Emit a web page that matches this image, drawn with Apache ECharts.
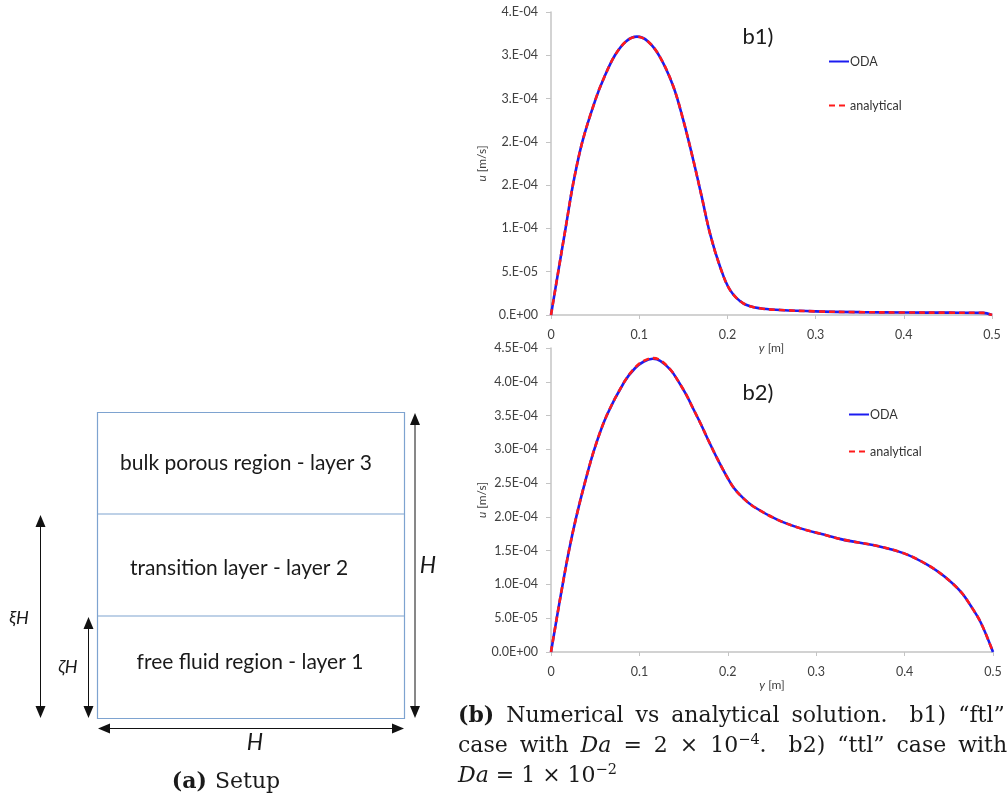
<!DOCTYPE html>
<html>
<head>
<meta charset="utf-8">
<script src="https://cdn.jsdelivr.net/npm/echarts@6/dist/echarts.min.js"></script>
<style>
  html, body { margin: 0; padding: 0; background: #fff; }
  #main { width: 1007px; height: 803px; }
</style>
</head>
<body>
<div id="main"></div>
<script>
// ---- data (u in units of 1e-4 m/s, y in m) ----
var b1Y   = [0, 0.0082, 0.0165, 0.0248, 0.0355, 0.0508, 0.0605, 0.0725, 0.085, 0.0975, 0.11, 0.1236, 0.1387, 0.15, 0.1613, 0.1708, 0.1803, 0.1916, 0.2029, 0.218, 0.237, 0.26, 0.3, 0.35, 0.4, 0.45, 0.49, 0.5];
var b1Oda = [0, 0.5, 1.0, 1.5, 2.0, 2.5, 2.75, 3.0, 3.16, 3.215, 3.16, 2.98, 2.64, 2.25, 1.79, 1.37, 0.94, 0.56, 0.29, 0.135, 0.077, 0.058, 0.042, 0.033, 0.029, 0.027, 0.025, 0];
var b1Analytical = [0, 0.5, 1.0, 1.5, 2.0, 2.5, 2.75, 3.0, 3.16, 3.215, 3.16, 2.98, 2.64, 2.25, 1.79, 1.37, 0.94, 0.56, 0.29, 0.135, 0.077, 0.058, 0.042, 0.033, 0.029, 0.027, 0.025, 0];

var b2Y   = [0, 0.0065, 0.0132, 0.0203, 0.0286, 0.0382, 0.049, 0.063, 0.083, 0.095, 0.105, 0.115, 0.1236, 0.135, 0.1425, 0.1525, 0.1613, 0.17, 0.1785, 0.1878, 0.1975, 0.2067, 0.218, 0.2294, 0.2559, 0.2823, 0.305, 0.3314, 0.3693, 0.3994, 0.426, 0.4448, 0.4637, 0.475, 0.4864, 0.5];
var b2Oda = [0, 0.5, 1.0, 1.5, 2.0, 2.5, 3.0, 3.5, 4.0, 4.2, 4.3, 4.34, 4.31, 4.18, 4.04, 3.82, 3.59, 3.36, 3.12, 2.87, 2.63, 2.43, 2.27, 2.15, 1.96, 1.83, 1.75, 1.66, 1.57, 1.46, 1.29, 1.12, 0.89, 0.68, 0.43, 0];
var b2Analytical = [0, 0.5, 1.0, 1.5, 2.0, 2.5, 3.0, 3.5, 4.0, 4.21, 4.31, 4.35, 4.32, 4.18, 4.04, 3.82, 3.59, 3.36, 3.12, 2.87, 2.63, 2.43, 2.27, 2.15, 1.96, 1.83, 1.75, 1.66, 1.57, 1.46, 1.29, 1.12, 0.89, 0.68, 0.43, 0];

var xTickLabels  = ['0', '0.1', '0.2', '0.3', '0.4', '0.5'];
var b1TickLabels = ['0.E+00', '5.E-05', '1.E-04', '2.E-04', '2.E-04', '3.E-04', '3.E-04', '4.E-04'];
var b2TickLabels = ['0.0E+00', '5.0E-05', '1.0E-04', '1.5E-04', '2.0E-04', '2.5E-04', '3.0E-04', '3.5E-04', '4.0E-04', '4.5E-04'];

function pairs(xs, ys) { return xs.map(function (x, i) { return [x, ys[i]]; }); }

var chart = echarts.init(document.getElementById('main'));

var axisGray = '#c4c4c4';
var labelColor = '#404040';
var sans = 'Lato';

function xAxisOf(gi) {
  return {
    type: 'value', gridIndex: gi, min: 0, max: 0.5, interval: 0.1,
    name: '{i|y} [m]', nameLocation: 'middle', nameGap: 24,
    nameTextStyle: { fontFamily: sans, fontSize: 12, color: labelColor,
      rich: { i: { fontStyle: 'italic', fontFamily: sans, fontSize: 12, color: labelColor } } },
    axisLine: { show: true, onZero: false, lineStyle: { color: axisGray, width: 1.5 } },
    axisTick: { show: true, length: 4, lineStyle: { color: axisGray } },
    axisLabel: { margin: 13, fontFamily: sans, fontSize: 12.5, color: labelColor,
      formatter: function (v) { return xTickLabels[Math.round(v * 10)]; } },
    splitLine: { show: false }
  };
}
function yAxisOf(gi, max, labels) {
  return {
    type: 'value', gridIndex: gi, min: 0, max: max, interval: 0.5,
    name: '{i|u} [m/s]', nameLocation: 'middle', nameGap: 63, nameRotate: 90,
    nameTextStyle: { fontFamily: sans, fontSize: 12, color: labelColor,
      rich: { i: { fontStyle: 'italic', fontFamily: sans, fontSize: 12, color: labelColor } } },
    axisLine: { show: true, lineStyle: { color: axisGray, width: 1.5 } },
    axisTick: { show: true, length: 5, lineStyle: { color: axisGray } },
    axisLabel: { margin: 13, fontFamily: sans, fontSize: 12.5, color: labelColor,
      formatter: function (v) { return labels[Math.round(v * 2)]; } },
    splitLine: { show: false }
  };
}
function seriesOf(name, xi, data, color, dashed) {
  return {
    name: name, type: 'line', xAxisIndex: xi, yAxisIndex: xi,
    data: data, smooth: 0.35, symbol: 'none', silent: true,
    lineStyle: { color: color, width: 2.6, type: dashed ? [6, 4] : 'solid' },
    itemStyle: { color: color }
  };
}

// ---- setup schematic (a) drawn as graphics ----
var ink = '#111';
function arrowV(x, y1, y2) {
  return [
    { type: 'line', shape: { x1: x, y1: y1 + 8, x2: x, y2: y2 - 8 }, style: { stroke: ink, lineWidth: 1 } },
    { type: 'polygon', shape: { points: [[x, y1], [x - 5, y1 + 12], [x + 5, y1 + 12]] }, style: { fill: ink } },
    { type: 'polygon', shape: { points: [[x, y2], [x - 5, y2 - 12], [x + 5, y2 - 12]] }, style: { fill: ink } }
  ];
}
function arrowH(y, x1, x2) {
  return [
    { type: 'line', shape: { x1: x1 + 8, y1: y, x2: x2 - 8, y2: y }, style: { stroke: ink, lineWidth: 1 } },
    { type: 'polygon', shape: { points: [[x1, y], [x1 + 12, y - 5], [x1 + 12, y + 5]] }, style: { fill: ink } },
    { type: 'polygon', shape: { points: [[x2, y], [x2 - 12, y - 5], [x2 - 12, y + 5]] }, style: { fill: ink } }
  ];
}
function txt(x, y, text, font, align, extra) {
  var s = { x: x, y: y, text: text, font: font, fill: '#1a1a1a', align: align || 'center', verticalAlign: 'middle' };
  if (extra) for (var k in extra) s[k] = extra[k];
  return { type: 'text', style: s };
}
var serif = 'DejaVu Serif';
var capSize = 22;
var capRich = {
  b: { fontWeight: 'bold', fontFamily: serif, fontSize: capSize, fill: '#1a1a1a' },
  i: { fontStyle: 'italic', fontFamily: serif, fontSize: capSize, fill: '#1a1a1a' },
  s: { fontFamily: serif, fontSize: 14.5, fill: '#1a1a1a', verticalAlign: 'top', lineHeight: 27 },
  w1: { fontFamily: serif, fontSize: capSize, width: 12 },
  g1: { fontFamily: serif, fontSize: capSize, width: 22 },
  w2: { fontFamily: serif, fontSize: capSize, width: 12 },
  g2: { fontFamily: serif, fontSize: capSize, width: 22 },
  ga: { fontFamily: serif, fontSize: capSize, width: 8 },
  ba: { fontWeight: 'bold', fontFamily: serif, fontSize: capSize, fill: '#1a1a1a' }
};
// justified caption lines: words joined with fixed-width gaps
function justify(words, gap) { return words.join('{' + gap + '| }'); }
var capLine1 = justify(['{b|(b)}', 'Numerical', 'vs', 'analytical', 'solution.{g1| }b1)', '“ftl”'], 'w1');
var capLine2 = justify(['case', 'with', '{i|Da}', '=', '2', '×', '10{s|−4}.{g2| }b2)', '“ttl”', 'case', 'with'], 'w2');
var capFont = capSize + 'px "DejaVu Serif"';

var boxColor = '#7ea3d0';
var graphics = [
  { type: 'rect', shape: { x: 97.5, y: 412.5, width: 307, height: 306 }, style: { fill: 'none', stroke: boxColor, lineWidth: 1.2 } },
  { type: 'line', shape: { x1: 97.5, y1: 514, x2: 404.5, y2: 514 }, style: { stroke: boxColor, lineWidth: 1.2 } },
  { type: 'line', shape: { x1: 97.5, y1: 616, x2: 404.5, y2: 616 }, style: { stroke: boxColor, lineWidth: 1.2 } },
  txt(246, 463, 'bulk porous region - layer 3', '21px Lato'),
  txt(239, 568, 'transition layer - layer 2', '21px Lato'),
  txt(250, 662, 'free fluid region - layer 1', '21px Lato'),
  txt(428, 566, 'H', 'italic 23px Lato'),
  txt(255, 743, 'H', 'italic 23px Lato'),
  txt(19, 618, 'ξH', 'italic 18px Lato'),
  txt(68, 667, 'ζH', 'italic 18px Lato'),
  txt(226, 782, '{ba|(a)}{ga| }Setup', capFont, 'center', { rich: capRich }),
  // panel tags
  txt(758, 37, 'b1)', '22px Lato'),
  txt(758, 393, 'b2)', '22px Lato'),
  // caption (b)
  txt(458, 716, capLine1, capFont, 'left', { rich: capRich }),
  txt(458, 746, capLine2, capFont, 'left', { rich: capRich }),
  txt(458, 776, '{i|Da} = 1 × 10{s|−2}', capFont, 'left', { rich: capRich })
];
graphics = graphics.concat(arrowV(415, 413, 718), arrowV(40.5, 515, 718), arrowV(88.5, 617, 718), arrowH(728.5, 98, 404));

var legendText = { fontFamily: sans, fontSize: 12.5, color: '#333', padding: [0, 0, 0, -4] };
var option = {
  backgroundColor: '#fff',
  animation: false,
  grid: [
    { left: 551, top: 12, width: 441, height: 303 },
    { left: 551, top: 348, width: 442, height: 304 }
  ],
  xAxis: [xAxisOf(0), xAxisOf(1)],
  yAxis: [yAxisOf(0, 3.5, b1TickLabels), yAxisOf(1, 4.5, b2TickLabels)],
  legend: [
    { orient: 'vertical', left: 823, top: 50, itemWidth: 20, itemHeight: 14, itemGap: 31,
      data: ['ODA', 'analytical'], selectedMode: false, itemStyle: { opacity: 0 }, textStyle: legendText },
    { orient: 'vertical', left: 843, top: 403, itemWidth: 20, itemHeight: 14, itemGap: 24,
      data: ['ODA', 'analytical'], selectedMode: false, itemStyle: { opacity: 0 }, textStyle: legendText }
  ],
  series: [
    seriesOf('ODA', 0, pairs(b1Y, b1Oda), '#1c1cf0', false),
    seriesOf('analytical', 0, pairs(b1Y, b1Analytical), '#ff1a1a', true),
    seriesOf('ODA', 1, pairs(b2Y, b2Oda), '#1c1cf0', false),
    seriesOf('analytical', 1, pairs(b2Y, b2Analytical), '#ff1a1a', true)
  ],
  graphic: graphics
};
chart.setOption(option);
</script>
</body>
</html>
